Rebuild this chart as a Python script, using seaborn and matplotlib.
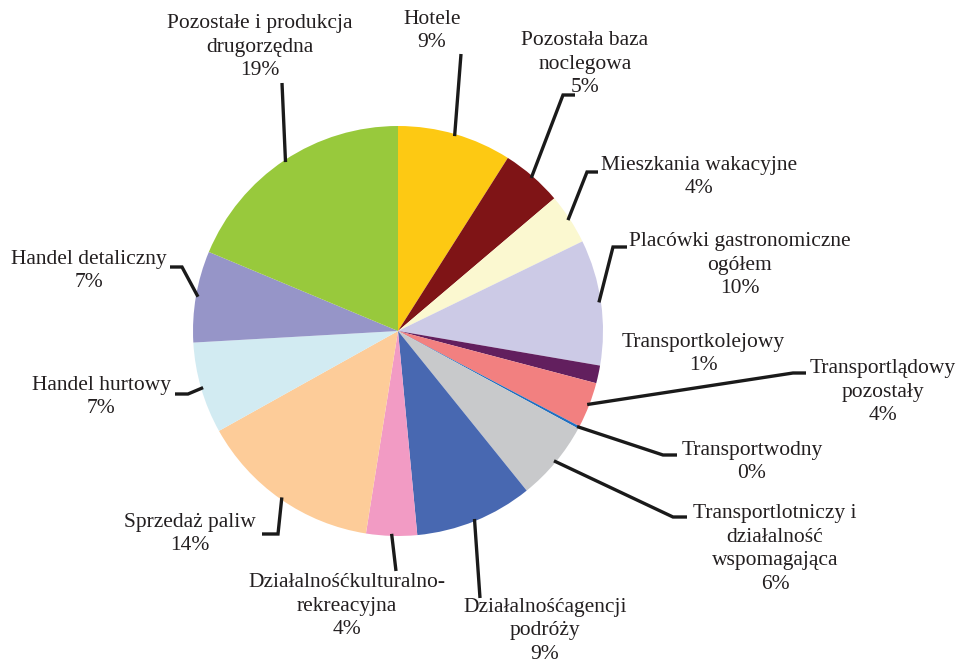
"""
Struktura - wykres kołowy z etykietami i liniami odniesienia.
"""

import numpy as np
import matplotlib
matplotlib.use("Agg")
import matplotlib.pyplot as plt
import seaborn as sns

# dane (kolejność zgodnie z ruchem wskazówek zegara od góry)
categories = [
    "Hotele",
    "Pozostała baza\nnoclegowa",
    "Mieszkania wakacyjne",
    "Placówki gastronomiczne\nogółem",
    "Transportkolejowy",
    "Transportlądowy\npozostały",
    "Transportwodny",
    "Transportlotniczy i\ndziałalność\nwspomagająca",
    "Działalnośćagencji\npodróży",
    "Działalnośćkulturalno-\nrekreacyjna",
    "Sprzedaż paliw",
    "Handel hurtowy",
    "Handel detaliczny",
    "Pozostałe i produkcja\ndrugorzędna",
]
shares = [9.0, 4.8, 4.0, 9.9, 1.4, 3.6, 0.2, 6.3, 9.3, 4.0, 14.4, 7.2, 7.2, 18.7]
colors = [
    "#fdc913", "#7f1416", "#fbf8d0", "#cccae6", "#621f5e", "#f28080", "#1f6fc0",
    "#c8c9cb", "#4868b1", "#f29bc4", "#fdcc99", "#d2ebf2", "#9695c8", "#98c93c",
]

# układ etykiet w pikselach: środek tekstu oraz punkty linii (bez końca na kole)
W, H = 965, 664
CX, CY, R = 398, 331, 205
layout = [
    ((432, 31), [(461, 54)]),
    ((585, 64), [(575, 95), (563, 95)]),
    ((699, 177), [(598, 172), (587, 172)]),
    ((740, 265), [(627, 247), (613, 247)]),
    ((703, 354), []),
    ((883, 392), [(806, 373), (793, 373)]),
    ((752, 462), [(677, 455), (663, 455)]),
    ((775, 549), [(687, 517), (673, 517)]),
    ((545, 631), [(480, 598)]),
    ((347, 606), [(396, 571)]),
    ((190, 534), [(262, 534), (278, 534)]),
    ((101, 397), [(175, 394), (188, 394)]),
    ((89, 271), [(170, 267), (182, 267)]),
    ((260, 47), [(282, 83)]),
]


def px(x, y):
    return (x - CX) / R, (CY - y) / R


sns.set_theme(style="white")
plt.rcParams["font.family"] = ["Liberation Serif", "DejaVu Serif"]

fig = plt.figure(figsize=(W / 100, H / 100), dpi=100)
ax = fig.add_axes([0, 0, 1, 1])

wedges, _ = ax.pie(
    shares,
    colors=sns.color_palette(colors),
    startangle=90,
    counterclock=False,
    radius=1.0,
    wedgeprops=dict(linewidth=0),
)

cum = np.cumsum([0] + shares)
total = cum[-1]
for i, (name, val) in enumerate(zip(categories, shares)):
    (tx, ty), pts = layout[i]
    x, y = px(tx, ty)
    ax.text(x, y, f"{name}\n{round(val):.0f}%", ha="center", va="center",
            fontsize=15.5, linespacing=1.33, color="#231f20")
    if pts:
        mid = np.deg2rad(90 - (cum[i] + val / 2) / total * 360)
        line = [px(*p) for p in pts] + [(0.99 * np.cos(mid), 0.99 * np.sin(mid))]
        lx, ly = zip(*line)
        ax.plot(lx, ly, color="#1a1a1a", lw=2.4, solid_capstyle="butt",
                solid_joinstyle="miter")

ax.set_xlim(-CX / R, (W - CX) / R)
ax.set_ylim(-(H - CY) / R, CY / R)
ax.set_aspect("equal")
ax.axis("off")

fig.savefig("out.png", dpi=100)
